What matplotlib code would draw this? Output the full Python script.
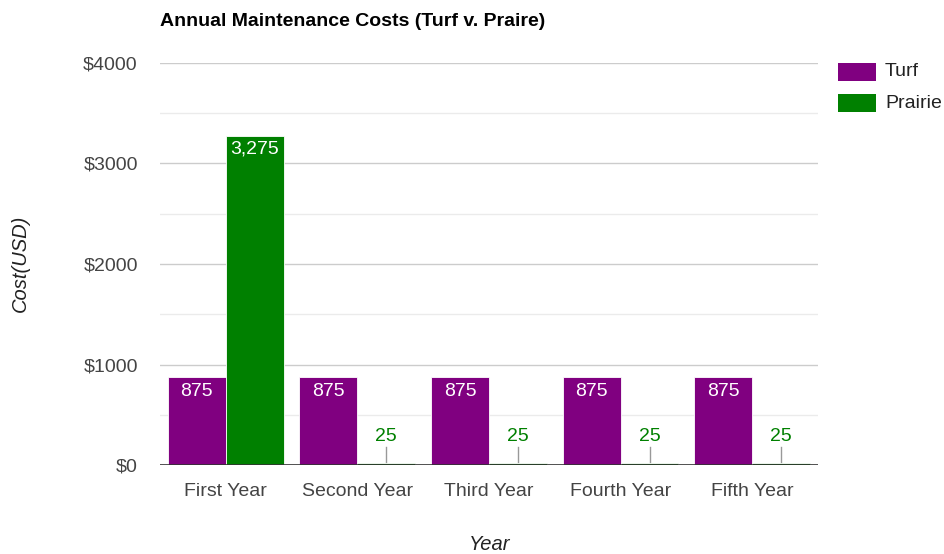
import matplotlib
matplotlib.use("Agg")
import matplotlib.pyplot as plt
from matplotlib.patches import Rectangle
import numpy as np

plt.rcParams['font.family'] = ['Liberation Sans', 'DejaVu Sans']

years = ['First Year', 'Second Year', 'Third Year', 'Fourth Year', 'Fifth Year']
turf = [875, 875, 875, 875, 875]
prairie = [3275, 25, 25, 25, 25]
series_names = ['Turf', 'Prairie']
colors = ['#800080', '#008000']

fig = plt.figure(figsize=(9.44, 5.54), dpi=100)
ax = fig.add_axes([0.1695, 0.1606, 0.697, 0.7257])

x = np.arange(len(years))
w = 0.44
ax.bar(x - w / 2, turf, width=w, color=colors[0], edgecolor='white', linewidth=0.6, zorder=3)
ax.bar(x + w / 2, prairie, width=w, color=colors[1], edgecolor='white', linewidth=0.6, zorder=3)

ax.set_xlim(-0.5, len(years) - 0.5)
ax.set_ylim(0, 4000)

# gridlines
for v in range(500, 4001, 500):
    c = '#cccccc' if v % 1000 == 0 else '#ebebeb'
    ax.axhline(v, color=c, linewidth=1, zorder=1)
ax.axhline(0, color='#333333', linewidth=1.2, zorder=4)

# labels on bars
for i, v in enumerate(turf):
    ax.text(x[i] - w / 2, v - 60, f'{v:,}', color='white', ha='center', va='top', fontsize=14, zorder=5)
for i, v in enumerate(prairie):
    if v > 500:
        ax.text(x[i] + w / 2, v - 50, f'{v:,}', color='white', ha='center', va='top', fontsize=14, zorder=5)
    else:
        ax.plot([x[i] + w / 2, x[i] + w / 2], [v, 180], color='#999999', linewidth=1, zorder=2)
        ax.text(x[i] + w / 2, 195, f'{v:,}', color=colors[1], ha='center', va='bottom', fontsize=14, zorder=5)

ax.set_yticks(range(0, 4001, 1000))
ax.set_yticklabels([f'${v}' for v in range(0, 4001, 1000)])
ax.set_xticks(x)
ax.set_xticklabels(years)
ax.tick_params(axis='both', length=0, labelsize=14, labelcolor='#444444')
ax.tick_params(axis='y', pad=16)
ax.tick_params(axis='x', pad=13)
for s in ax.spines.values():
    s.set_visible(False)

fig.text(160 / 944, 1 - 22 / 554, 'Annual Maintenance Costs (Turf v. Praire)', fontsize=14,
         fontweight='bold', ha='left', va='center', color='#000000')
fig.text(20 / 944, 1 - 263 / 554, 'Cost(USD)', rotation=90, style='italic', fontsize=14.5,
         ha='center', va='center', color='#222222')
fig.text(490 / 944, 1 - 545 / 554, 'Year', style='italic', fontsize=14.5,
         ha='center', va='center', color='#222222')

# legend
for k, (name, c) in enumerate(zip(series_names, colors)):
    y0 = 1 - (81 + 31 * k) / 554
    fig.patches.append(Rectangle((838 / 944, y0), 38 / 944, 18 / 554, transform=fig.transFigure,
                                 facecolor=c, edgecolor='none'))
    fig.text(885 / 944, y0 + 9 / 554, name, fontsize=14, ha='left', va='center', color='#222222')

fig.savefig('out.png', dpi=100)
